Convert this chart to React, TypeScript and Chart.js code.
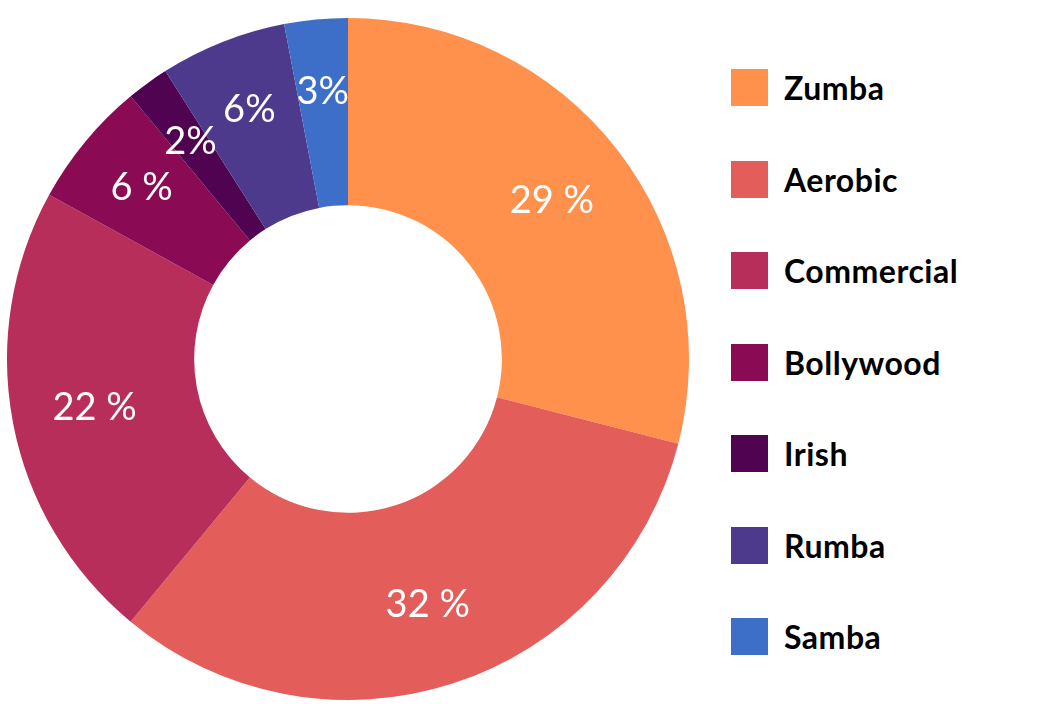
import React, { useEffect, useRef } from "react";
import { Chart, registerables } from "chart.js";
Chart.register(...registerables);

const categories = ["Zumba", "Aerobic", "Commercial", "Bollywood", "Irish", "Rumba", "Samba"];
const values = [29, 32, 22, 6, 2, 6, 3];
const valueLabels = ["29 %", "32 %", "22 %", "6 %", "2%", "6%", "3%"];
const colors = ["#FF914D", "#E35D5A", "#B82E5A", "#8A0A54", "#4F0350", "#4E3A8C", "#3D6FC8"];

const labelPlugin = {
  id: "sliceLabels",
  afterDatasetsDraw(chart: any) {
    const ctx = chart.ctx;
    const meta = chart.getDatasetMeta(0);
    ctx.save();
    ctx.fillStyle = "#ffffff";
    ctx.font = "38px Lato, 'Open Sans', sans-serif";
    ctx.textAlign = "center";
    ctx.textBaseline = "middle";
    meta.data.forEach((arc: any, i: number) => {
      const p = arc.getProps(["x", "y", "startAngle", "endAngle"], true);
      const a = (p.startAngle + p.endAngle) / 2;
      const r = values[i] < 10 ? 268 : 258;
      ctx.fillText(valueLabels[i], p.x + Math.cos(a) * r, p.y + Math.sin(a) * r);
    });
    ctx.restore();
  },
};

export default function App() {
  const ref = useRef<HTMLCanvasElement>(null);
  useEffect(() => {
    const chart = new Chart(ref.current!, {
      type: "doughnut",
      data: {
        labels: categories,
        datasets: [{ data: values, backgroundColor: colors, borderWidth: 0 }],
      },
      options: {
        animation: false,
        responsive: false,
        radius: 341,
        cutout: 157,
        plugins: { legend: { display: false }, tooltip: { enabled: false } },
      },
      plugins: [labelPlugin],
    });
    return () => chart.destroy();
  }, []);
  return (
    <div style={{ position: "absolute", left: 0, top: 0, width: 1057, height: 704, background: "#fff" }}>
      <canvas ref={ref} width={696} height={718} style={{ position: "absolute", left: 0, top: 0, width: 696, height: 718 }} />
      {categories.map((c, i) => (
        <div key={c} style={{ position: "absolute", left: 731, top: 69 + i * 91.5, height: 37, display: "flex", alignItems: "center" }}>
          <div style={{ width: 37, height: 37, background: colors[i] }} />
          <span style={{ marginLeft: 16, font: "bold 32px Lato, 'Open Sans', sans-serif", color: "#000", letterSpacing: 0.5 }}>{c}</span>
        </div>
      ))}
    </div>
  );
}
